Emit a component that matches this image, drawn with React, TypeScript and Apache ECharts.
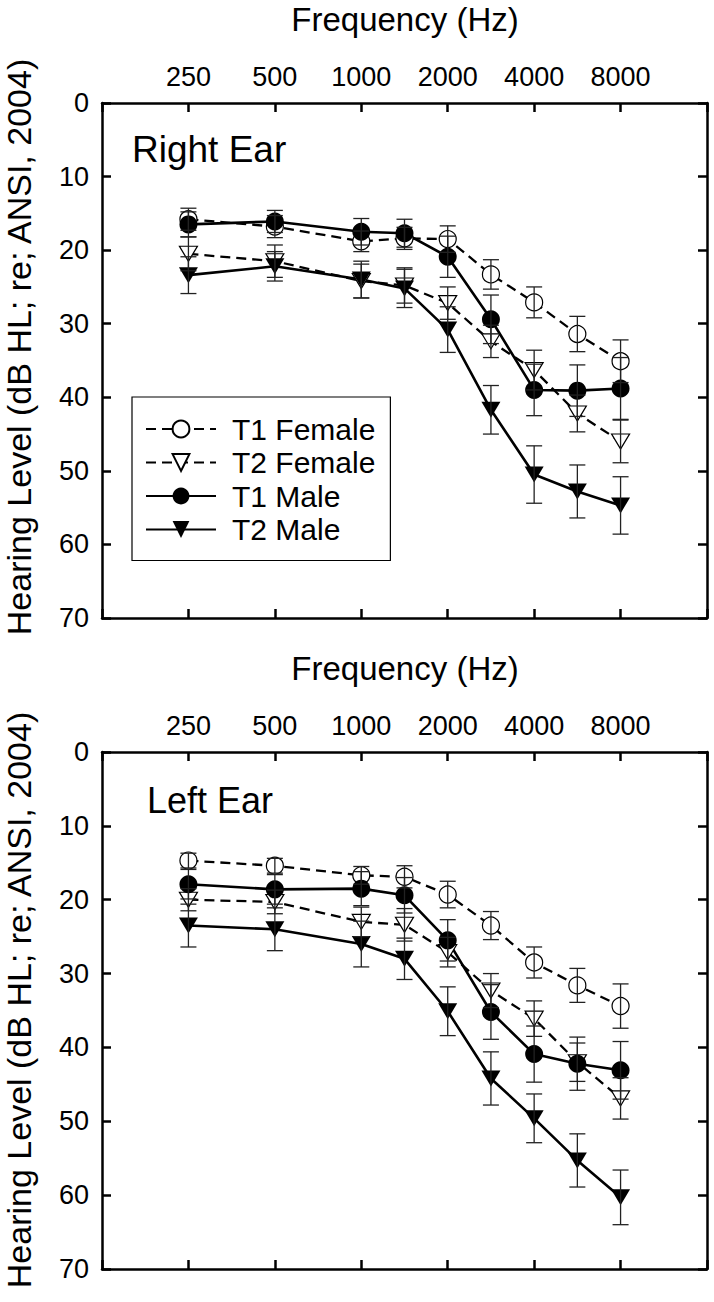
import React, { useEffect, useRef } from 'react';
import * as echarts from 'echarts';

// ---- data ----
const freqs = [250, 500, 1000, 1500, 2000, 3000, 4000, 6000, 8000];
const tickFreqs = [250, 500, 1000, 2000, 4000, 8000];
const seriesNames = ['T1 Female', 'T2 Female', 'T1 Male', 'T2 Male'];
const panelTitles = ['Right Ear', 'Left Ear'];
const xTitle = 'Frequency (Hz)';
const yTitle = 'Hearing Level (dB HL; re; ANSI, 2004)';

const rightT1Female = [15.8, 16.8, 18.8, 18.4, 18.5, 23.3, 27.1, 31.4, 35.1];
const rightT1FemaleSE = [1.5, 1.5, 1.4, 1.5, 1.8, 2.0, 2.1, 2.4, 2.9];
const rightT2Female = [20.5, 21.5, 24.2, 24.8, 27.2, 32.4, 36.3, 42.2, 46.0];
const rightT2FemaleSE = [2.3, 2.2, 2.3, 2.4, 2.2, 2.2, 2.7, 2.5, 2.9];
const rightT1Male = [16.5, 16.1, 17.5, 17.7, 20.9, 29.4, 39.0, 39.1, 38.8];
const rightT1MaleSE = [1.7, 1.5, 1.8, 1.9, 2.8, 3.3, 3.5, 3.5, 4.2];
const rightT2Male = [23.4, 22.2, 24.0, 25.2, 30.8, 41.7, 50.5, 52.8, 54.7];
const rightT2MaleSE = [2.5, 2.0, 2.5, 2.6, 3.1, 3.3, 3.9, 3.6, 3.9];

const leftT1Female = [14.7, 15.4, 16.7, 16.9, 19.3, 23.5, 28.5, 31.6, 34.4];
const leftT1FemaleSE = [1.0, 1.0, 1.2, 1.5, 1.8, 1.9, 2.1, 2.3, 3.0];
const leftT2Female = [20.0, 20.3, 23.0, 23.4, 27.1, 32.3, 36.1, 42.0, 46.9];
const leftT2FemaleSE = [1.5, 1.6, 2.0, 2.2, 2.0, 2.3, 2.4, 2.6, 2.8];
const leftT1Male = [17.9, 18.6, 18.5, 19.4, 25.5, 35.2, 40.9, 42.2, 43.1];
const leftT1MaleSE = [2.0, 2.0, 2.3, 2.4, 2.8, 3.7, 3.8, 3.6, 3.9];
const leftT2Male = [23.5, 24.0, 26.0, 28.0, 35.1, 44.2, 49.6, 55.3, 60.3];
const leftT2MaleSE = [2.9, 2.9, 3.1, 2.8, 3.3, 3.6, 3.3, 3.6, 3.7];

const FONT = '"Liberation Sans", Arial, Helvetica, sans-serif';

// audiogram position: octaves above 250 Hz, snapped to half-octave slots
const pos = (f: number) => Math.round(2 * Math.log2(f / 250)) / 2;

const styles = [
  { symbol: 'circle', size: 17, rotate: 0, fill: '#fff', dashed: true },
  { symbol: 'triangle', size: [18, 15], rotate: 180, fill: '#fff', dashed: true },
  { symbol: 'circle', size: 18, rotate: 0, fill: '#000', dashed: false },
  { symbol: 'triangle', size: [19, 16], rotate: 180, fill: '#000', dashed: false },
];

export default function App() {
  const ref = useRef<HTMLDivElement>(null);
  useEffect(() => {
    if (!ref.current) return;
    const chart = echarts.init(ref.current, undefined, { renderer: 'svg' });

    const panels = [
      { means: [rightT1Female, rightT2Female, rightT1Male, rightT2Male], ses: [rightT1FemaleSE, rightT2FemaleSE, rightT1MaleSE, rightT2MaleSE] },
      { means: [leftT1Female, leftT2Female, leftT1Male, leftT2Male], ses: [leftT1FemaleSE, leftT2FemaleSE, leftT1MaleSE, leftT2MaleSE] },
    ];

    const grids = [
      { left: 102, top: 103, width: 605, height: 515 },
      { left: 102, top: 752, width: 605, height: 517 },
    ];

    const axisLine = { show: true, onZero: false, lineStyle: { color: '#000', width: 2.5 } };
    const axisTick = { show: true, inside: true, length: 9, lineStyle: { color: '#000', width: 2.5 } };

    const xAxes: any[] = [];
    const yAxes: any[] = [];
    grids.forEach((_, gi) => {
      ['top', 'bottom'].forEach((p) => {
        xAxes.push({
          type: 'value', gridIndex: gi, position: p, min: -1, max: 6, interval: 1,
          axisLine, axisTick, splitLine: { show: false },
          axisLabel: {
            show: p === 'top', margin: 13, fontSize: 27, color: '#000', fontFamily: FONT,
            formatter: (v: number) => {
              const f = Math.round(250 * Math.pow(2, v));
              return tickFreqs.includes(f) ? String(f) : '';
            },
          },
        });
      });
      ['left', 'right'].forEach((p) => {
        yAxes.push({
          type: 'value', gridIndex: gi, position: p, min: 0, max: 70, interval: 10, inverse: true,
          axisLine, axisTick, splitLine: { show: false },
          axisLabel: { show: p === 'left', margin: 13, fontSize: 27, color: '#000', fontFamily: FONT },
        });
      });
    });

    const series: any[] = [];
    panels.forEach((panel, gi) => {
      panel.means.forEach((vals, si) => {
        const st = styles[si];
        series.push({
          type: 'line', name: seriesNames[si],
          xAxisIndex: gi * 2, yAxisIndex: gi * 2,
          data: freqs.map((f, i) => [pos(f), vals[i]]),
          symbol: st.symbol, symbolSize: st.size, symbolRotate: st.rotate,
          showSymbol: true, z: 3,
          lineStyle: { color: '#000', width: st.dashed ? 2.3 : 2.6, type: st.dashed ? [10, 6] : 'solid' },
          itemStyle: { color: st.fill, borderColor: '#000', borderWidth: st.dashed ? 1.2 : 0 },
          emphasis: { disabled: true },
        });
      });
      panel.means.forEach((vals, si) => {
        const se = panel.ses[si];
        series.push({
          type: 'custom', name: seriesNames[si] + ' SE',
          xAxisIndex: gi * 2, yAxisIndex: gi * 2, z: 4,
          data: freqs.map((f, i) => [pos(f), vals[i] - se[i], vals[i] + se[i]]),
          encode: { x: 0, y: [1, 2] },
          renderItem: (params: any, api: any) => {
            const x = api.value(0);
            const p1 = api.coord([x, api.value(1)]);
            const p2 = api.coord([x, api.value(2)]);
            const w = 8;
            const style = { stroke: '#222', lineWidth: 1.3 };
            return {
              type: 'group',
              children: [
                { type: 'line', shape: { x1: p1[0], y1: p1[1], x2: p2[0], y2: p2[1] }, style },
                { type: 'line', shape: { x1: p1[0] - w, y1: p1[1], x2: p1[0] + w, y2: p1[1] }, style },
                { type: 'line', shape: { x1: p2[0] - w, y1: p2[1], x2: p2[0] + w, y2: p2[1] }, style },
              ],
            };
          },
        });
      });
    });

    const textStyle = (size: number) => ({ fill: '#000', font: `${size}px ${FONT}` });

    chart.setOption({
      animation: false,
      backgroundColor: '#fff',
      grid: grids,
      xAxis: xAxes,
      yAxis: yAxes,
      series,
      legend: {
        show: true,
        data: seriesNames,
        orient: 'vertical',
        left: 132, top: 397,
        itemWidth: 70, itemHeight: 21, itemGap: 3.5,
        padding: [17, 15, 16, 13],
        borderColor: '#000', borderWidth: 1.2, borderRadius: 0,
        selectedMode: false,
        textStyle: { fontSize: 30, color: '#000', fontFamily: FONT, padding: [0, 0, 0, 11] },
      },
      graphic: [
        { type: 'text', x: 405, y: 19, style: { text: xTitle, ...textStyle(33), align: 'center', verticalAlign: 'middle' } },
        { type: 'text', x: 405, y: 668, style: { text: xTitle, ...textStyle(33), align: 'center', verticalAlign: 'middle' } },
        { type: 'text', x: 19, y: 347, rotation: Math.PI / 2, style: { text: yTitle, ...textStyle(34), align: 'center', verticalAlign: 'middle' } },
        { type: 'text', x: 19, y: 1000, rotation: Math.PI / 2, style: { text: yTitle, ...textStyle(34), align: 'center', verticalAlign: 'middle' } },
        { type: 'text', x: 132, y: 149, style: { text: panelTitles[0], ...textStyle(37), align: 'left', verticalAlign: 'middle' } },
        { type: 'text', x: 147, y: 800, style: { text: panelTitles[1], ...textStyle(36), align: 'left', verticalAlign: 'middle' } },
      ],
    });

    return () => chart.dispose();
  }, []);

  return <div ref={ref} style={{ position: 'fixed', left: 0, top: 0, width: 714, height: 1302 }} />;
}
